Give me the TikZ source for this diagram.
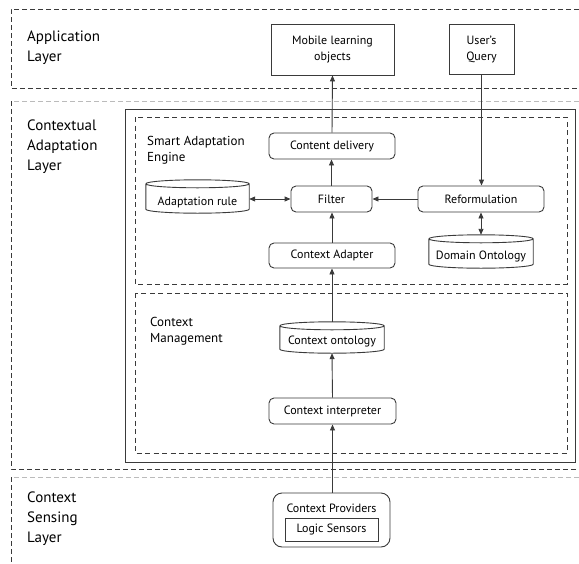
\documentclass[tikz,border=0pt]{standalone}
\usepackage{fontspec}
\setmainfont{PT Sans}
\usetikzlibrary{arrows.meta,calc}
\definecolor{ln}{HTML}{3A3A3A}
\definecolor{lightdash}{HTML}{BBBBBB}
\newcommand\mycyl[1]{%
  \draw[ln,line width=0.9pt] let \p1=(#1.north west), \p2=(#1.south east), \n1={(\x2-\x1)/2} in
    (\x1,\y1-4pt) -- (\x1,\y2+4pt) arc[start angle=180,end angle=360,x radius=\n1,y radius=4pt]
    -- (\x2,\y1-4pt) arc[start angle=0,end angle=180,x radius=\n1,y radius=4pt]
    (\x1,\y1-4pt) arc[start angle=180,end angle=360,x radius=\n1,y radius=4pt];}
\newcommand\lowered[2]{\raisebox{-#1}[\height][\depth]{#2}}
\begin{document}
\begin{tikzpicture}[x=1pt,y=1pt,
  layerdash/.style={ln,line width=0.8pt,dash pattern=on 5pt off 3pt},
  lightdashed/.style={lightdash,line width=0.8pt,dash pattern=on 5pt off 3pt},
  groupdash/.style={ln,line width=0.8pt,dash pattern=on 5pt off 3.5pt},
  layerlabel/.style={anchor=west,align=left,font=\fontsize{15}{20}\selectfont,inner sep=0pt},
  grouplabel/.style={anchor=west,align=left,font=\fontsize{13}{16}\selectfont,inner sep=0pt},
  sqbox/.style={draw=ln,line width=0.9pt,align=center,inner sep=0pt,font=\fontsize{12}{16}\selectfont},
  rbox/.style={draw=ln,line width=0.9pt,rounded corners=5pt,align=center,inner sep=0pt,font=\fontsize{12}{14}\selectfont},
  cylnode/.style={draw=none,align=center,inner sep=0pt,font=\fontsize{12}{14}\selectfont},
  arr/.style={ln,line width=0.9pt,-{Triangle[length=6pt,width=5pt]}},
  darr/.style={ln,line width=0.9pt,{Triangle[length=6pt,width=5pt]}-{Triangle[length=6pt,width=5pt]}}]
\useasboundingbox (0,0) rectangle (579,-563);
% layers
\draw[layerdash] (579,-9) -- (11,-9) -- (11,-88) -- (579,-88);
\draw[lightdashed] (579,-101) -- (11,-101);
\draw[layerdash] (11,-101) -- (11,-469) -- (579,-469);
\draw[lightdashed] (579,-477) -- (11,-477);
\draw[layerdash] (11,-477) -- (11,-563);
\node[layerlabel] (appl) at (27,-48) {Application\\Layer};
\node[layerlabel] (cal) at (27,-147) {Contextual\\Adaptation\\Layer};
\node[layerlabel] (csl) at (27,-519) {Context\\Sensing\\Layer};
% inner frame and groups
\draw[ln,line width=1pt] (125,-109) rectangle (575,-462);
\draw[groupdash] (135,-117) rectangle (567,-284);
\draw[groupdash] (135,-293) rectangle (567,-453);
\node[grouplabel] (sael) at (147,-150) {Smart Adaptation\\Engine};
\node[grouplabel] (cml) at (150,-331) {Context\\Management};
% nodes
\node[sqbox,minimum width=123pt,minimum height=51pt] (mlo) at (332.5,-49.5) {Mobile learning\\objects};
\node[sqbox,minimum width=65pt,minimum height=50pt] (uq) at (481.5,-49) {User’s\\Query};
\node[rbox,minimum width=126pt,minimum height=26pt] (cd) at (332,-146) {Content delivery};
\node[rbox,minimum width=81pt,minimum height=26pt] (fil) at (331.5,-199) {Filter};
\node[rbox,minimum width=126pt,minimum height=26pt] (ref) at (481,-199) {Reformulation};
\node[cylnode,minimum width=103pt,minimum height=33pt] (ar) at (197.5,-196.5) {\lowered{5.5pt}{Adaptation rule}};
\node[rbox,minimum width=126pt,minimum height=25pt] (ca) at (332,-255.5) {Context Adapter};
\node[cylnode,minimum width=104pt,minimum height=33pt] (dom) at (481,-251.5) {\lowered{5pt}{Domain Ontology}};
\node[cylnode,minimum width=104pt,minimum height=31pt] (co) at (332,-337.5) {\lowered{3.5pt}{Context ontology}};
\node[rbox,minimum width=127pt,minimum height=26pt] (ci) at (332.5,-411) {Context interpreter};
\node[draw=ln,line width=0.9pt,rounded corners=9pt,minimum width=117pt,minimum height=54pt,inner sep=0pt] (cp) at (331.5,-520) {};
\node[font=\fontsize{12}{14}\selectfont,inner sep=0pt] (cpt) at (331.5,-508) {Context Providers};
\node[sqbox,minimum width=93pt,minimum height=23pt] (ls) at (331.5,-529.5) {Logic Sensors};
\mycyl{ar}
\mycyl{dom}
\mycyl{co}
% connectors
\draw[arr] (cd.north) -- (mlo.south);
\draw[arr] (uq.south) -- (uq.south |- ref.north);
\draw[arr] (fil.north) -- (fil.north |- cd.south);
\draw[darr] (fil.west) -- (fil.west -| ar.east);
\draw[arr] (ref.west) -- (fil.east);
\draw[arr] (ca.north) -- (ca.north |- fil.south);
\draw[darr] (ref.south) -- (ref.south |- dom.north);
\draw[arr] (co.north) -- (ca.south);
\draw[arr] (ci.north) -- (co.south);
\draw[arr] (cp.north) -- (cp.north -| ci.south) -- (ci.south);
\end{tikzpicture}
\end{document}
